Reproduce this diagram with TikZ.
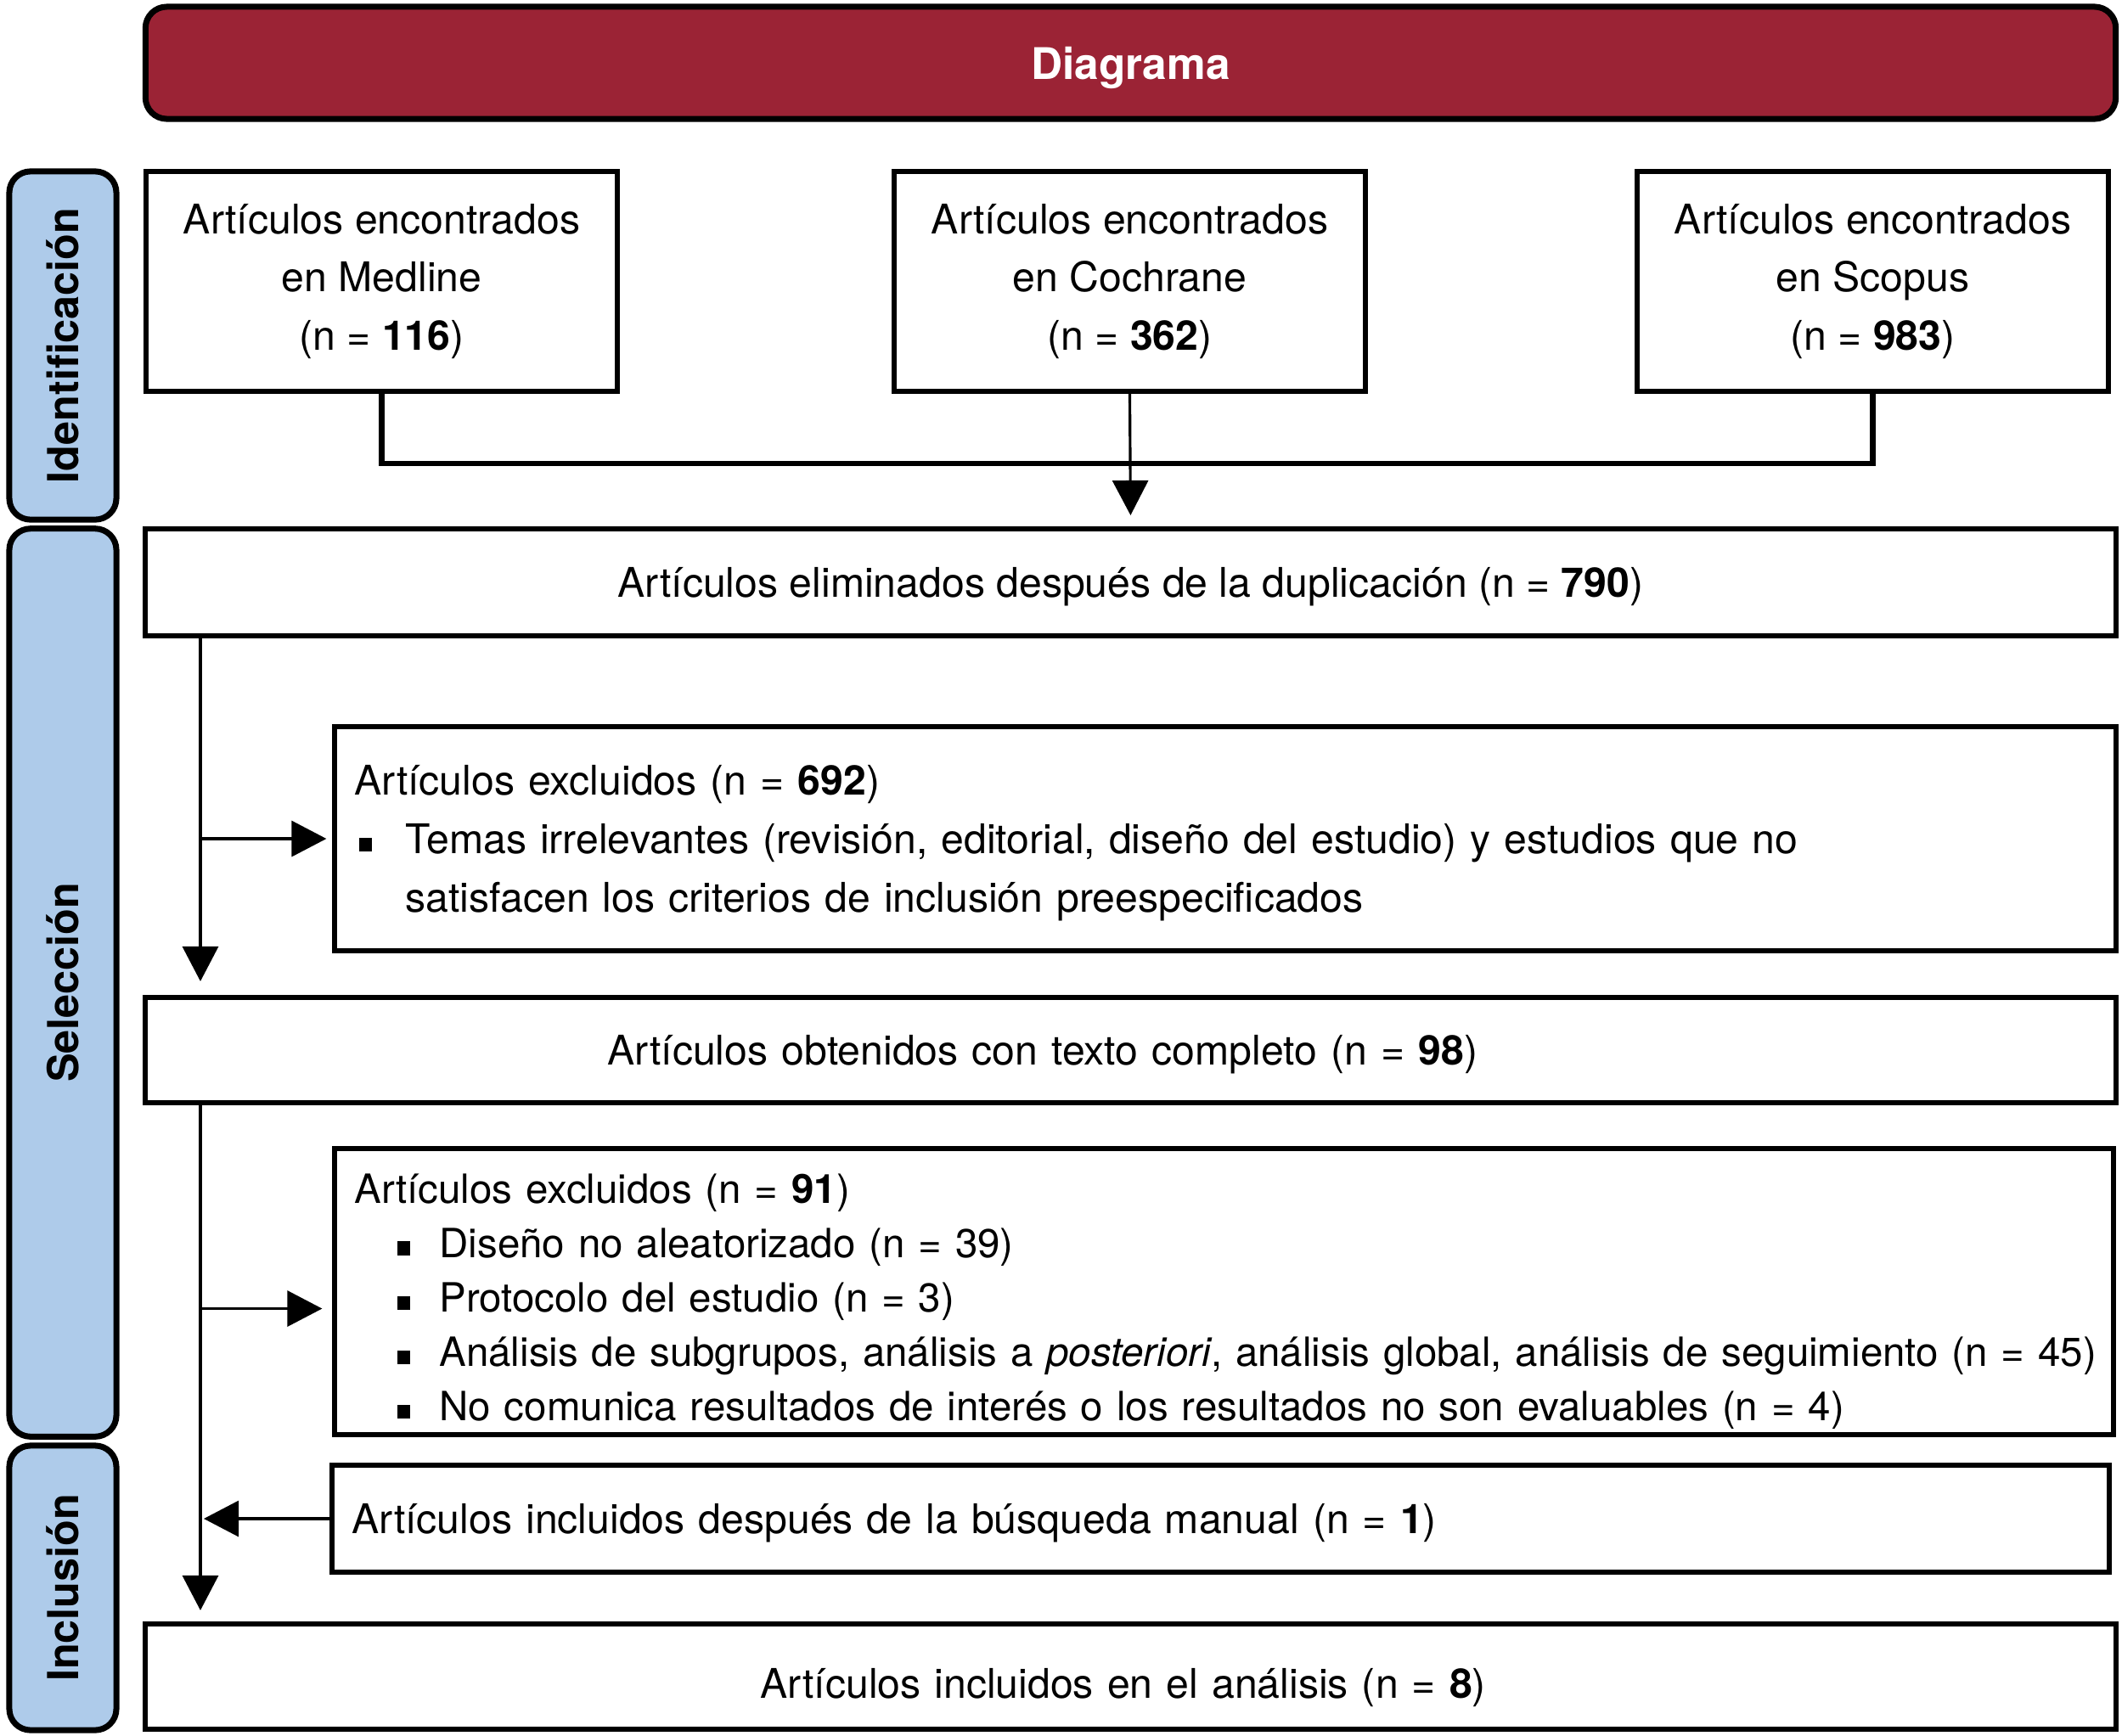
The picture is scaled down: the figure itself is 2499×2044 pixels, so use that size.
\documentclass[tikz,border=0pt]{standalone}
\usepackage{fontspec}
\setmainfont{TeX Gyre Heros}
\usepackage{xcolor}
\usepackage{tikz}
\usetikzlibrary{arrows.meta}

\definecolor{diagred}{HTML}{9B2335}
\definecolor{phaseblue}{HTML}{AECBEA}
\newcommand{\boxfont}{\fontsize{13.7pt}{19.6pt}\selectfont}
\newcommand{\listfont}{\fontsize{13.5pt}{18.2pt}\selectfont}
\newcommand{\phasefont}{\fontsize{14.3pt}{17pt}\selectfont\bfseries}
\newcommand{\sqitem}{\rule[0.03cm]{0.15cm}{0.16cm}}

\tikzset{
  stagebox/.style={draw,line width=1.7pt,fill=white,font=\boxfont,inner xsep=0.23cm,inner ysep=0pt},
  oneline/.style={text depth=0pt},
  phase/.style={draw,line width=2pt,fill=phaseblue,rounded corners=0.25cm,rotate=90,
    font=\phasefont,minimum height=1.26cm,inner sep=0pt},
  conn/.style={line width=1.8pt},
  arr/.style={line width=0.9pt,-{Triangle[length=0.41cm,width=0.42cm]}}
}

\begin{document}
\begin{tikzpicture}[x=0.01cm,y=-0.01cm]
    \useasboundingbox (0,0) rectangle (2499,2044);

    % title bar
    \node[draw,line width=2pt,fill=diagred,rounded corners=0.25cm,text=white,
      font=\fontsize{14.6pt}{17pt}\selectfont\bfseries,oneline,
      minimum width=23.19cm,minimum height=1.32cm] (title) at (1331.5,74) {Diagrama};

    % phases
    \node[phase,minimum width=4.10cm] (ident) at (74,407) {Identificación};
    \node[phase,minimum width=10.69cm] (selec) at (74,1157.5) {Selección};
    \node[phase,minimum width=3.35cm] (inclu) at (74,1870.5) {Inclusión};

    % sources
    \node[stagebox,align=center,minimum width=5.55cm,minimum height=2.59cm] (medline) at (449.5,331.5)
      {Artículos encontrados\\en Medline\\(n = \textbf{116})};
    \node[stagebox,align=center,minimum width=5.55cm,minimum height=2.59cm] (cochrane) at (1330.5,331.5)
      {Artículos encontrados\\en Cochrane\\(n = \textbf{362})};
    \node[stagebox,align=center,minimum width=5.55cm,minimum height=2.59cm] (scopus) at (2205.5,331.5)
      {Artículos encontrados\\en Scopus\\(n = \textbf{983})};

    \node[stagebox,oneline,minimum width=23.19cm,minimum height=1.26cm] (elim) at (1331.5,686)
      {Artículos eliminados después de la duplicación (n = \textbf{790})};

    \node[stagebox,align=left,text width=20.50cm,minimum width=20.96cm,minimum height=2.64cm] (excl1) at (1443,988)
      {\rule{0pt}{0.46cm}Artículos excluidos (n = \textbf{692})\\
       \makebox[0.6cm][l]{\hspace*{0.06cm}\sqitem}Temas irrelevantes (revisión, editorial, diseño del estudio) y estudios que no\\
       \hspace*{0.6cm}satisfacen los criterios de inclusión preespecificados};

    \node[stagebox,oneline,align=left,text width=22.73cm,minimum width=23.19cm,minimum height=1.24cm] (obten) at (1331.5,1237)
      {\hspace*{5.21cm}Artículos obtenidos con texto completo (n = \textbf{98})};

    \node[stagebox,align=left,font=\listfont,text width=20.47cm,minimum width=20.93cm,minimum height=3.37cm] (excl2) at (1441.5,1521.5)
      {\rule{0pt}{0.58cm}Artículos excluidos (n = \textbf{91})\\
       \makebox[1.0cm][l]{\hspace*{0.51cm}\sqitem}Diseño no aleatorizado (n = 39)\\
       \makebox[1.0cm][l]{\hspace*{0.51cm}\sqitem}Protocolo del estudio (n = 3)\\
       \mbox{\makebox[1.0cm][l]{\hspace*{0.51cm}\sqitem}Análisis de subgrupos, análisis a \textit{posteriori}, análisis global, análisis de seguimiento (n = 45)}\\
       \makebox[1.0cm][l]{\hspace*{0.51cm}\sqitem}No comunica resultados de interés o los resultados no son evaluables (n = 4)};

    \node[stagebox,oneline,align=left,text width=20.45cm,minimum width=20.91cm,minimum height=1.26cm] (manual) at (1437.5,1789)
      {Artículos incluidos después de la búsqueda manual (n = \textbf{1})};

    \node[stagebox,oneline,text height=0.5cm,align=left,text width=22.73cm,minimum width=23.19cm,minimum height=1.24cm] (final) at (1331.5,1975)
      {\hspace*{7.01cm}Artículos incluidos en el análisis (n = \textbf{8})};

    % connectors
    \coordinate (spine) at (236,0);
    \draw[conn] (medline.south) -- ++(0,82) -| (scopus.south);
    \draw[arr,shorten >=0.13cm] (cochrane.south) -- (elim.north);
    \draw[arr,shorten >=0.16cm] (elim.south -| spine) -- (obten.north -| spine);
    \draw[arr,shorten >=0.07cm] (excl1.west -| spine) -- (excl1.west);
    \draw[arr,shorten >=0.13cm] (obten.south -| spine) -- (final.north -| spine);
    \draw[arr,shorten >=0.12cm] ([yshift=-0.2cm]excl2.west -| spine) -- ([yshift=-0.2cm]excl2.west);
    \draw[arr,shorten >=0.04cm] (manual.west) -- (manual.west -| spine);
\end{tikzpicture}
\end{document}
